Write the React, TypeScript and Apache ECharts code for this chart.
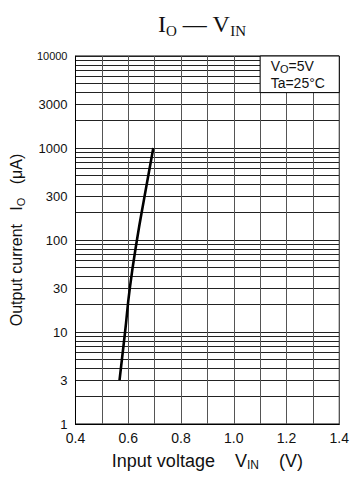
import React, { useEffect, useRef } from "react";
import * as echarts from "echarts";

// Curve: input voltage (V) vs output current (µA)
const vin = [0.567, 0.588, 0.606, 0.633, 0.662, 0.695];
const io = [3, 10, 30, 100, 300, 1000];

// Grid and tick values
const xGrid = [0.4, 0.5, 0.6, 0.7, 0.8, 0.9, 1.0, 1.1, 1.2, 1.3, 1.4];
const xLabels = [0.4, 0.6, 0.8, 1.0, 1.2, 1.4];
const yGrid = [
  1, 2, 3, 4, 5, 6, 7, 8, 9,
  10, 20, 30, 40, 50, 60, 70, 80, 90,
  100, 200, 300, 400, 500, 600, 700, 800, 900,
  1000, 2000, 3000, 4000, 5000, 6000, 7000, 8000, 9000,
  10000,
];
const yLabels = [1, 3, 10, 30, 100, 300, 1000, 3000, 10000];

// Condition box corners (data coords)
const boxX = [1.1, 1.4];
const boxY = [4000, 10000];

const SANS = "'Liberation Sans', Arial, Helvetica, sans-serif";
const SERIF = "'Liberation Serif', 'Times New Roman', serif";

export default function App() {
  const ref = useRef<HTMLDivElement>(null);
  useEffect(() => {
    if (!ref.current) return;
    const chart = echarts.init(ref.current, null, { renderer: "svg" });
    chart.setOption({
      animation: false,
      backgroundColor: "#fff",
      title: {
        left: 153,
        top: 5,
        text: "{a|I}{s|O}{a| — V}{s|IN}",
        textStyle: {
          fontWeight: "normal",
          rich: {
            a: { fontFamily: SERIF, fontSize: 24, fontWeight: "normal", lineHeight: 28, color: "#111" },
            s: { fontFamily: SERIF, fontSize: 15, fontWeight: "normal", lineHeight: 20, verticalAlign: "bottom", color: "#111" },
          },
        },
      },
      grid: {
        left: 72,
        right: 9,
        top: 56,
        bottom: 57,
        show: true,
        borderColor: "#000",
        borderWidth: 1,
        backgroundColor: "transparent",
      },
      xAxis: {
        type: "value",
        min: 0.4,
        max: 1.4,
        interval: 0.1,
        axisLine: { show: true, lineStyle: { color: "#000", width: 1 } },
        axisTick: { show: false, customValues: xGrid },
        axisLabel: {
          customValues: xLabels,
          formatter: (v: number) => v.toFixed(1),
          fontFamily: SANS,
          fontSize: 14,
          color: "#111",
          margin: 7,
        },
        splitLine: { show: true, lineStyle: { color: "#555", width: 1 } },
        name: "Input voltage    {v|V}{s|IN}    (V)",
        nameLocation: "middle",
        nameGap: 26,
        nameTextStyle: {
          fontFamily: SANS,
          fontSize: 18,
          color: "#111",
          rich: {
            v: { fontFamily: SANS, fontSize: 18, lineHeight: 21, color: "#111" },
            s: { fontFamily: SANS, fontSize: 12, lineHeight: 15, verticalAlign: "bottom", color: "#111" },
          },
        },
      },
      yAxis: {
        type: "log",
        logBase: 10,
        min: 1,
        max: 10000,
        axisLine: { show: true, lineStyle: { color: "#000", width: 1 } },
        axisTick: { show: false, customValues: yGrid },
        axisLabel: {
          customValues: yLabels,
          formatter: (v: number) => (v === 10000 ? "{t|10000}" : String(v)),
          fontFamily: SANS,
          fontSize: 13,
          color: "#111",
          margin: 8,
          rich: { t: { fontFamily: SANS, fontSize: 11, color: "#111" } },
        },
        splitLine: { show: true, lineStyle: { color: "#222", width: 1 } },
        minorSplitLine: { show: false },
        name: "Output current   {v|I}{s|O}   (μA)",
        nameLocation: "middle",
        nameRotate: 90,
        nameGap: 45,
        nameTextStyle: {
          fontFamily: SANS,
          fontSize: 16,
          color: "#111",
          rich: {
            v: { fontFamily: SANS, fontSize: 16, lineHeight: 20, color: "#111" },
            s: { fontFamily: SANS, fontSize: 11, lineHeight: 14, verticalAlign: "bottom", color: "#111" },
          },
        },
      },
      series: [
        {
          type: "line",
          data: vin.map((x, i) => [x, io[i]]),
          smooth: 0.5,
          showSymbol: false,
          lineStyle: { color: "#000", width: 2.6 },
          z: 5,
          markArea: {
            silent: true,
            itemStyle: { color: "#fff", borderColor: "#000", borderWidth: 1 },
            label: {
              show: true,
              position: "insideLeft",
              distance: 11,
              formatter: "{v|V}{o|O}{v|=5V}\n{v|Ta=25°C}",
              rich: {
                v: { fontFamily: SANS, fontSize: 14, lineHeight: 17, color: "#111" },
                o: { fontFamily: SANS, fontSize: 11, lineHeight: 14, verticalAlign: "bottom", color: "#111" },
              },
            },
            data: [[{ coord: [boxX[0], boxY[0]] }, { coord: [boxX[1], boxY[1]] }]],
          },
        },
      ],
    });
    return () => chart.dispose();
  }, []);
  return (
    <div
      ref={ref}
      style={{ position: "fixed", left: 0, top: 0, width: 352, height: 481 }}
    />
  );
}
